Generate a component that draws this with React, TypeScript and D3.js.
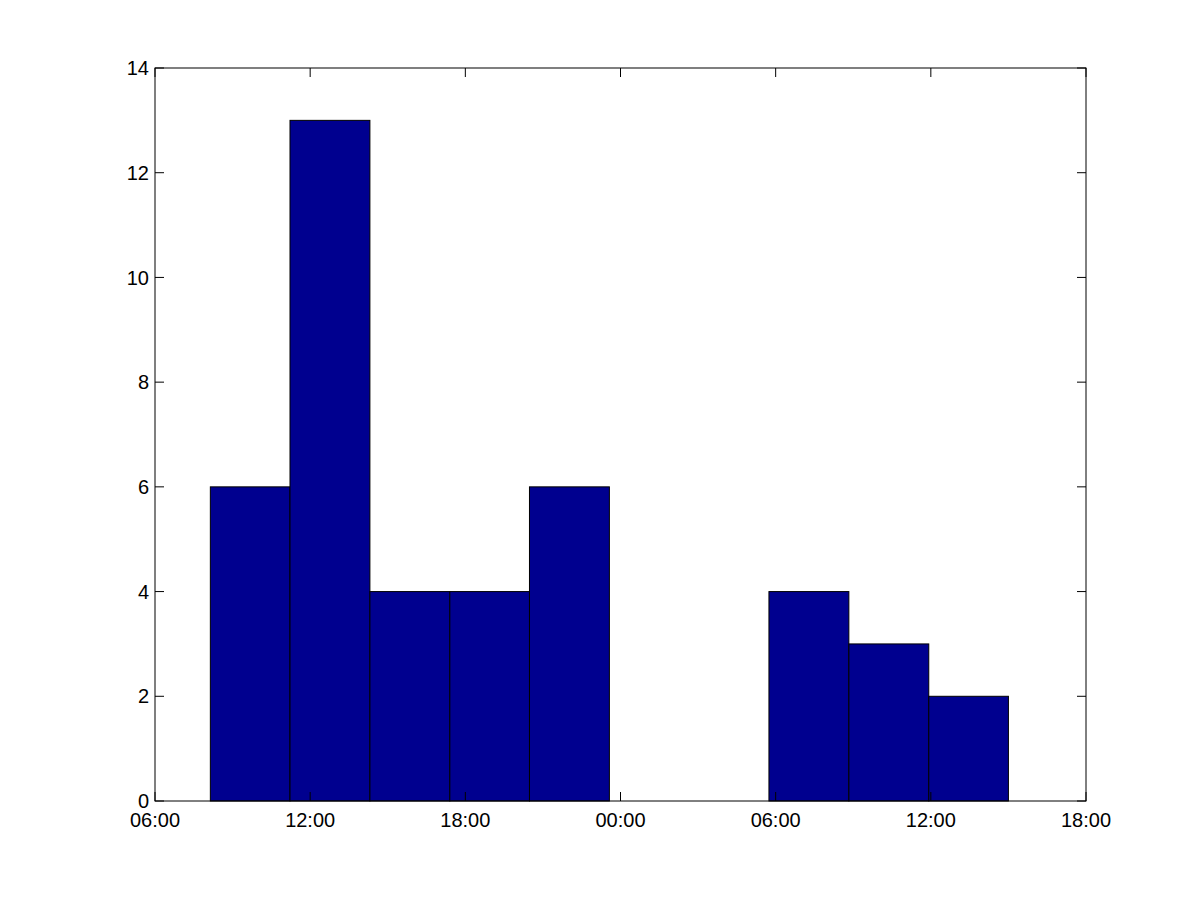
import React, { useEffect, useRef } from "react";
import * as d3 from "d3";

// histogram bin edges, in hours from midnight of day one
const binEdgeHours = [8.14, 11.22, 14.31, 17.4, 20.48, 23.57, 26.66, 29.74, 32.83, 35.92, 39.0];
// counts per bin
const counts = [6, 13, 4, 4, 6, 0, 0, 4, 3, 2];
// axis ticks
const xTickHours = [6, 12, 18, 24, 30, 36, 42];
const yTicks = [0, 2, 4, 6, 8, 10, 12, 14];

const base = new Date(2000, 0, 1, 0, 0, 0);
const toDate = (h: number) => new Date(base.getTime() + h * 3600 * 1000);

const App = () => {
  const svgRef = useRef<SVGSVGElement>(null);

  useEffect(() => {
    const svg = d3.select(svgRef.current);
    svg.selectAll("*").remove();

    const W = 1200;
    const H = 900;
    const margin = { top: 68, right: 114, bottom: 99, left: 155 };
    const width = W - margin.left - margin.right;
    const height = H - margin.top - margin.bottom;
    const tickLen = 9;
    const font = "'Liberation Sans', Arial, Helvetica, sans-serif";

    svg.append("rect").attr("width", W).attr("height", H).attr("fill", "#fff");

    const g = svg.append("g").attr("transform", `translate(${margin.left},${margin.top})`);

    const x = d3
      .scaleTime()
      .domain([toDate(xTickHours[0]), toDate(xTickHours[xTickHours.length - 1])])
      .range([0, width]);
    const y = d3.scaleLinear().domain([0, 14]).range([height, 0]);

    const bins = counts.map((c, i) => ({ x0: binEdgeHours[i], x1: binEdgeHours[i + 1], count: c }));

    // bars
    g.selectAll(".bar")
      .data(bins.filter((d) => d.count > 0))
      .enter()
      .append("rect")
      .attr("x", (d) => x(toDate(d.x0)))
      .attr("y", (d) => y(d.count))
      .attr("width", (d) => x(toDate(d.x1)) - x(toDate(d.x0)))
      .attr("height", (d) => height - y(d.count))
      .attr("fill", "#00008F")
      .attr("stroke", "#000")
      .attr("stroke-width", 1);

    // box
    g.append("rect")
      .attr("x", 0)
      .attr("y", 0)
      .attr("width", width)
      .attr("height", height)
      .attr("fill", "none")
      .attr("stroke", "#000")
      .attr("stroke-width", 1);

    // x ticks (bottom + top, inward)
    const fmt = d3.timeFormat("%H:%M");
    xTickHours.forEach((h) => {
      const px = x(toDate(h));
      g.append("line").attr("x1", px).attr("x2", px).attr("y1", height).attr("y2", height - tickLen).attr("stroke", "#000");
      g.append("line").attr("x1", px).attr("x2", px).attr("y1", 0).attr("y2", tickLen).attr("stroke", "#000");
      g.append("text")
        .attr("x", px)
        .attr("y", height + 26)
        .attr("text-anchor", "middle")
        .style("font-family", font)
        .style("font-size", "20px")
        .attr("fill", "#000")
        .text(fmt(toDate(h)));
    });

    // y ticks (left + right, inward)
    yTicks.forEach((v) => {
      const py = y(v);
      g.append("line").attr("x1", 0).attr("x2", tickLen).attr("y1", py).attr("y2", py).attr("stroke", "#000");
      g.append("line").attr("x1", width).attr("x2", width - tickLen).attr("y1", py).attr("y2", py).attr("stroke", "#000");
      g.append("text")
        .attr("x", -6)
        .attr("y", py)
        .attr("dy", "0.36em")
        .attr("text-anchor", "end")
        .style("font-family", font)
        .style("font-size", "20px")
        .attr("fill", "#000")
        .text(String(v));
    });
  }, []);

  return (
    <svg
      ref={svgRef}
      width={1200}
      height={900}
      style={{ position: "absolute", left: 0, top: 0, display: "block" }}
    />
  );
};

export default App;
